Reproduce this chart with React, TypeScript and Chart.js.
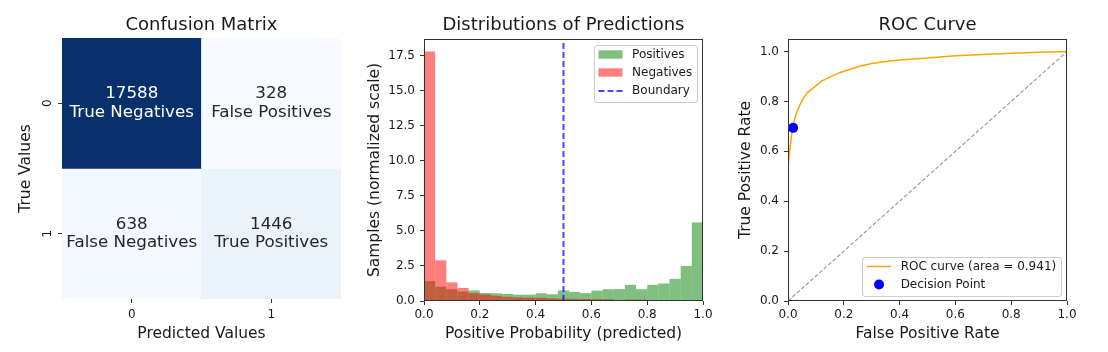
import React, { useEffect, useRef } from 'react';
import { Chart, registerables } from 'chart.js';

Chart.register(...registerables);

const FONT = "'DejaVu Sans', 'Liberation Sans', sans-serif";
const TEXT = '#1a1a1a';
const AXIS = '#333333';

// ---------- Confusion matrix ----------
const predictedLabels = ['0', '1'];
const trueLabels = ['0', '1'];
const cmRow0 = [17588, 328];
const cmRow1 = [638, 1446];
const cmRow0Names = ['True Negatives', 'False Positives'];
const cmRow1Names = ['False Negatives', 'True Positives'];

// ---------- Distributions of predictions (density histogram, 25 bins) ----------
const binCenters = [
  0.02, 0.06, 0.10, 0.14, 0.18, 0.22, 0.26, 0.30, 0.34, 0.38, 0.42, 0.46, 0.50,
  0.54, 0.58, 0.62, 0.66, 0.70, 0.74, 0.78, 0.82, 0.86, 0.90, 0.94, 0.98,
];
const positives = [
  1.42, 1.02, 0.84, 0.68, 0.75, 0.57, 0.55, 0.5, 0.45, 0.45, 0.55, 0.48, 0.75,
  0.65, 0.56, 0.74, 0.84, 0.85, 1.15, 0.84, 1.15, 1.25, 1.58, 2.5, 5.6,
];
const negatives = [
  17.78, 2.9, 1.33, 0.93, 0.56, 0.47, 0.38, 0.3, 0.25, 0.24, 0.23, 0.19, 0.16,
  0.15, 0.14, 0.13, 0.12, 0.03, 0.1, 0.1, 0.03, 0.02, 0.02, 0.01, 0.01,
];
const boundary = 0.5;
const histXTicks = [0, 0.2, 0.4, 0.6, 0.8, 1.0];
const histYTicks = [0, 2.5, 5, 7.5, 10, 12.5, 15, 17.5];

// ---------- ROC curve ----------
const rocFpr = [
  0, 0, 0.001, 0.003, 0.006, 0.01, 0.015, 0.018, 0.022, 0.03, 0.04, 0.056, 0.07,
  0.092, 0.122, 0.15, 0.185, 0.22, 0.26, 0.3, 0.35, 0.4, 0.5, 0.6, 0.7, 0.8, 0.9, 1.0,
];
const rocTpr = [
  0, 0.38, 0.49, 0.55, 0.6, 0.64, 0.68, 0.696, 0.72, 0.75, 0.78, 0.815, 0.835,
  0.855, 0.882, 0.897, 0.915, 0.928, 0.942, 0.952, 0.96, 0.966, 0.974, 0.983,
  0.988, 0.993, 0.997, 1.0,
];
const rocAuc = 0.941;
const chanceLine = [0, 1];
const rocTicks = [0, 0.2, 0.4, 0.6, 0.8, 1.0];

// ---------- helpers ----------
const BLUES = ['#f7fbff', '#deebf7', '#c6dbef', '#9ecae1', '#6baed6', '#4292c6', '#2171b5', '#08519c', '#08306b'];
function hexToRgb(h: string) {
  return [1, 3, 5].map((i) => parseInt(h.slice(i, i + 2), 16));
}
function blues(t: number) {
  const tt = Math.max(0, Math.min(1, t)) * (BLUES.length - 1);
  const i = Math.min(Math.floor(tt), BLUES.length - 2);
  const f = tt - i;
  const a = hexToRgb(BLUES[i]);
  const b = hexToRgb(BLUES[i + 1]);
  const c = a.map((v, k) => Math.round(v + (b[k] - v) * f));
  return `rgb(${c[0]}, ${c[1]}, ${c[2]})`;
}

const tickGrid = () => ({
  display: true,
  drawOnChartArea: false,
  drawTicks: true,
  tickLength: 4,
  color: AXIS,
  lineWidth: 1,
});

const spinePlugin = {
  id: 'spines',
  afterDatasetsDraw(chart: any) {
    const { ctx, chartArea: a } = chart;
    const l = Math.round(a.left);
    const t = Math.round(a.top);
    const r = Math.round(a.right);
    const b = Math.round(a.bottom);
    ctx.save();
    ctx.strokeStyle = AXIS;
    ctx.lineWidth = 1;
    ctx.strokeRect(l + 0.5, t + 0.5, r - l - 1, b - t - 1);
    ctx.restore();
  },
};

function roundRectPath(ctx: any, x: number, y: number, w: number, h: number, r: number) {
  ctx.beginPath();
  ctx.moveTo(x + r, y);
  ctx.lineTo(x + w - r, y);
  ctx.arcTo(x + w, y, x + w, y + r, r);
  ctx.lineTo(x + w, y + h - r);
  ctx.arcTo(x + w, y + h, x + w - r, y + h, r);
  ctx.lineTo(x + r, y + h);
  ctx.arcTo(x, y + h, x, y + h - r, r);
  ctx.lineTo(x, y + r);
  ctx.arcTo(x, y, x + r, y, r);
  ctx.closePath();
}

const mplLegendPlugin = {
  id: 'mplLegend',
  afterDraw(chart: any, _args: any, opts: any) {
    if (!opts || !opts.loc) return;
    const { ctx, chartArea: a } = chart;
    const fs = 12;
    const items = chart.data.datasets.filter((d: any) => d.label);
    ctx.save();
    ctx.font = `${fs}px ${FONT}`;
    const textW = Math.max(...items.map((d: any) => ctx.measureText(d.label).width));
    const pad = 0.4 * fs;
    const hl = 2 * fs;
    const htp = 0.8 * fs;
    const bap = 0.5 * fs;
    const pitch = 18;
    const first = 10;
    const last = 10.5;
    const w = pad * 2 + hl + htp + textW;
    const h = first + last + (items.length - 1) * pitch;
    const right = a.right - bap;
    const left = right - w;
    const top = opts.loc === 'upper right' ? a.top + bap : a.bottom - bap - h;
    roundRectPath(ctx, Math.round(left) + 0.5, Math.round(top) + 0.5, Math.round(w), Math.round(h), 2.5);
    ctx.fillStyle = 'rgba(255,255,255,0.8)';
    ctx.fill();
    ctx.strokeStyle = '#cccccc';
    ctx.lineWidth = 1;
    ctx.stroke();
    const isBarChart = chart.config.type === 'bar';
    items.forEach((ds: any, i: number) => {
      const cy = top + first + i * pitch;
      const hx = left + pad;
      const isPatch = ds.type === 'bar' || (isBarChart && !ds.type);
      if (isPatch) {
        ctx.fillStyle = ds.backgroundColor;
        ctx.fillRect(hx, cy - 4.7, hl, 8.4);
      } else if (ds.showLine === false) {
        ctx.beginPath();
        ctx.arc(hx + hl / 2, cy, ds.pointRadius, 0, Math.PI * 2);
        ctx.fillStyle = ds.backgroundColor;
        ctx.fill();
      } else {
        ctx.beginPath();
        ctx.setLineDash(ds.borderDash || []);
        ctx.strokeStyle = ds.borderColor;
        ctx.lineWidth = ds.borderWidth;
        ctx.moveTo(hx, cy);
        ctx.lineTo(hx + hl, cy);
        ctx.stroke();
        ctx.setLineDash([]);
      }
      ctx.fillStyle = TEXT;
      ctx.textAlign = 'left';
      ctx.textBaseline = 'middle';
      ctx.fillText(ds.label, hx + hl + htp, cy);
    });
    ctx.restore();
  },
};

const cellTextPlugin = {
  id: 'cellText',
  afterDatasetsDraw(chart: any) {
    const { ctx } = chart;
    ctx.save();
    ctx.font = `16.7px ${FONT}`;
    ctx.textAlign = 'center';
    ctx.textBaseline = 'middle';
    chart.data.datasets.forEach((ds: any, i: number) => {
      const meta = chart.getDatasetMeta(i);
      meta.data.forEach((el: any, j: number) => {
        const c = el.getCenterPoint();
        ctx.fillStyle = ds.textColors[j];
        ctx.fillText(String(ds.counts[j]), c.x, c.y - 9.3);
        ctx.fillText(ds.names[j], c.x, c.y + 9.3);
      });
    });
    ctx.restore();
  },
};

const baseOptions = () => ({
  responsive: false,
  animation: false as const,
  devicePixelRatio: 1,
  events: [] as any[],
});

const titleOpts = (text: string, bottom: number) => ({
  display: true,
  text,
  fullSize: false,
  color: TEXT,
  font: { family: FONT, size: 18, weight: 'normal' as const },
  padding: { top: 15, bottom },
});

const axisTitle = (text: string, pad: any) => ({
  display: true,
  text,
  color: TEXT,
  font: { family: FONT, size: 15.5, weight: 'normal' as const },
  padding: pad,
});

const tickFont = { family: FONT, size: 12 };

// ---------- configs ----------
function heatmapConfig(): any {
  const all = [...cmRow0, ...cmRow1];
  const vmin = Math.min(...all);
  const vmax = Math.max(...all);
  const rows = [cmRow0, cmRow1];
  const names = [cmRow0Names, cmRow1Names];
  return {
    type: 'bar',
    data: {
      labels: predictedLabels,
      datasets: rows.map((row, i) => ({
        label: '',
        data: row.map(() => 1),
        counts: row,
        names: names[i],
        backgroundColor: row.map((v) => blues((v - vmin) / (vmax - vmin))),
        textColors: row.map((v) => ((v - vmin) / (vmax - vmin) > 0.5 ? '#ffffff' : '#262626')),
        borderWidth: 0,
        barPercentage: 1,
        categoryPercentage: 1,
      })),
    },
    options: {
      ...baseOptions(),
      layout: { padding: { left: 0, right: 9, top: 0, bottom: 0 } },
      plugins: {
        legend: { display: false },
        tooltip: { enabled: false },
        title: titleOpts('Confusion Matrix', 1.4),
      },
      scales: {
        x: {
          type: 'category',
          stacked: true,
          offset: true,
          grid: { ...tickGrid(), offset: false },
          border: { display: false },
          ticks: { font: tickFont, color: TEXT, padding: 4.5 },
          title: axisTitle('Predicted Values', { top: 0, bottom: 8.7 }),
          afterFit: (s: any) => { s.height = 53; },
        },
        y: {
          type: 'linear',
          stacked: true,
          min: 0,
          max: trueLabels.length,
          reverse: true,
          afterBuildTicks: (s: any) => { s.ticks = trueLabels.map((_, i) => ({ value: i + 0.5 })); },
          grid: tickGrid(),
          border: { display: false },
          ticks: {
            font: tickFont,
            color: TEXT,
            minRotation: 90,
            maxRotation: 90,
            crossAlign: 'center',
            padding: 6.5,
            callback: (_v: any, i: number) => trueLabels[i],
          },
          title: axisTitle('True Values', { top: 16.5, bottom: 0 }),
          afterFit: (s: any) => { s.width = 62; },
        },
      },
    },
    plugins: [cellTextPlugin],
  };
}

function histConfig(): any {
  const histYMax = Math.max(...negatives, ...positives) * 1.05;
  const barCommon = {
    grouped: false,
    barPercentage: 1,
    categoryPercentage: 1,
    borderWidth: 0,
    inflateAmount: 0,
  };
  return {
    type: 'bar',
    data: {
      datasets: [
        {
          ...barCommon,
          label: 'Positives',
          data: binCenters.map((x, i) => ({ x, y: positives[i] })),
          backgroundColor: 'rgba(0,128,0,0.5)',
          order: 3,
        },
        {
          ...barCommon,
          label: 'Negatives',
          data: binCenters.map((x, i) => ({ x, y: negatives[i] })),
          backgroundColor: 'rgba(255,0,0,0.5)',
          order: 2,
        },
        {
          type: 'line',
          label: 'Boundary',
          data: [{ x: boundary, y: 0 }, { x: boundary, y: histYMax }],
          borderColor: 'rgba(0,0,255,0.72)',
          borderWidth: 2,
          borderDash: [6, 3],
          pointRadius: 0,
          order: 1,
        },
      ],
    },
    options: {
      ...baseOptions(),
      layout: { padding: { left: 0, right: 17, top: 0, bottom: 0 } },
      plugins: {
        legend: { display: false },
        tooltip: { enabled: false },
        title: titleOpts('Distributions of Predictions', 2.4),
        mplLegend: { loc: 'upper right' },
      },
      scales: {
        x: {
          type: 'linear',
          min: 0,
          max: 1,
          offset: false,
          afterBuildTicks: (s: any) => { s.ticks = histXTicks.map((v) => ({ value: v })); },
          grid: { ...tickGrid(), offset: false },
          border: { display: false },
          ticks: { font: tickFont, color: TEXT, padding: 2.5, callback: (v: number) => Number(v).toFixed(1) },
          title: axisTitle('Positive Probability (predicted)', { top: 0, bottom: 8.7 }),
          afterFit: (s: any) => { s.height = 51; },
        },
        y: {
          type: 'linear',
          min: 0,
          max: histYMax,
          afterBuildTicks: (s: any) => { s.ticks = histYTicks.map((v) => ({ value: v })); },
          grid: tickGrid(),
          border: { display: false },
          ticks: { font: tickFont, color: TEXT, padding: 5, callback: (v: number) => Number(v).toFixed(1) },
          title: axisTitle('Samples (normalized scale)', { top: 15.7, bottom: 0 }),
          afterFit: (s: any) => { s.width = 74; },
        },
      },
    },
    plugins: [spinePlugin, mplLegendPlugin],
  };
}

function rocConfig(): any {
  const tn = cmRow0[0];
  const fp = cmRow0[1];
  const fn = cmRow1[0];
  const tp = cmRow1[1];
  const decisionFpr = fp / (fp + tn);
  const decisionTpr = tp / (tp + fn);
  return {
    type: 'scatter',
    data: {
      datasets: [
        {
          label: `ROC curve (area = ${rocAuc.toFixed(3)})`,
          data: rocFpr.map((x, i) => ({ x, y: rocTpr[i] })),
          showLine: true,
          borderColor: '#ffa500',
          backgroundColor: '#ffa500',
          borderWidth: 1.5,
          pointRadius: 0,
          order: 2,
        },
        {
          label: '',
          data: chanceLine.map((v) => ({ x: v, y: v })),
          showLine: true,
          borderColor: '#9a9a9a',
          borderWidth: 1.1,
          borderDash: [4, 2],
          pointRadius: 0,
          order: 3,
        },
        {
          label: 'Decision Point',
          data: [{ x: decisionFpr, y: decisionTpr }],
          showLine: false,
          backgroundColor: '#0000ff',
          borderColor: '#0000ff',
          borderWidth: 0,
          pointRadius: 5,
          clip: false,
          order: 1,
        },
      ],
    },
    options: {
      ...baseOptions(),
      layout: { padding: { left: 0, right: 41, top: 0, bottom: 0 } },
      plugins: {
        legend: { display: false },
        tooltip: { enabled: false },
        title: titleOpts('ROC Curve', 2.4),
        mplLegend: { loc: 'lower right' },
      },
      scales: {
        x: {
          type: 'linear',
          min: 0,
          max: 1,
          afterBuildTicks: (s: any) => { s.ticks = rocTicks.map((v) => ({ value: v })); },
          grid: tickGrid(),
          border: { display: false },
          ticks: { font: tickFont, color: TEXT, padding: 2.5, callback: (v: number) => Number(v).toFixed(1) },
          title: axisTitle('False Positive Rate', { top: 0, bottom: 8.7 }),
          afterFit: (s: any) => { s.height = 51; },
        },
        y: {
          type: 'linear',
          min: 0,
          max: 1.05,
          afterBuildTicks: (s: any) => { s.ticks = rocTicks.map((v) => ({ value: v })); },
          grid: tickGrid(),
          border: { display: false },
          ticks: { font: tickFont, color: TEXT, padding: 5, callback: (v: number) => Number(v).toFixed(1) },
          title: axisTitle('True Positive Rate', { top: 16.5, bottom: 0 }),
          afterFit: (s: any) => { s.width = 68; },
        },
      },
    },
    plugins: [spinePlugin, mplLegendPlugin],
  };
}

function ChartCanvas({ left, width, makeConfig }: { left: number; width: number; makeConfig: () => any }) {
  const ref = useRef<HTMLCanvasElement | null>(null);
  useEffect(() => {
    if (!ref.current) return;
    const chart = new Chart(ref.current, makeConfig());
    return () => chart.destroy();
  }, []);
  return (
    <canvas
      ref={ref}
      width={width}
      height={352}
      style={{ position: 'absolute', left, top: 0, width, height: 352, display: 'block' }}
    />
  );
}

export default function App() {
  return (
    <div
      style={{
        position: 'absolute',
        left: 0,
        top: 0,
        width: 1108,
        height: 352,
        background: '#ffffff',
        overflow: 'hidden',
      }}
    >
      <ChartCanvas left={0} width={350} makeConfig={heatmapConfig} />
      <ChartCanvas left={350} width={370} makeConfig={histConfig} />
      <ChartCanvas left={720} width={388} makeConfig={rocConfig} />
    </div>
  );
}
